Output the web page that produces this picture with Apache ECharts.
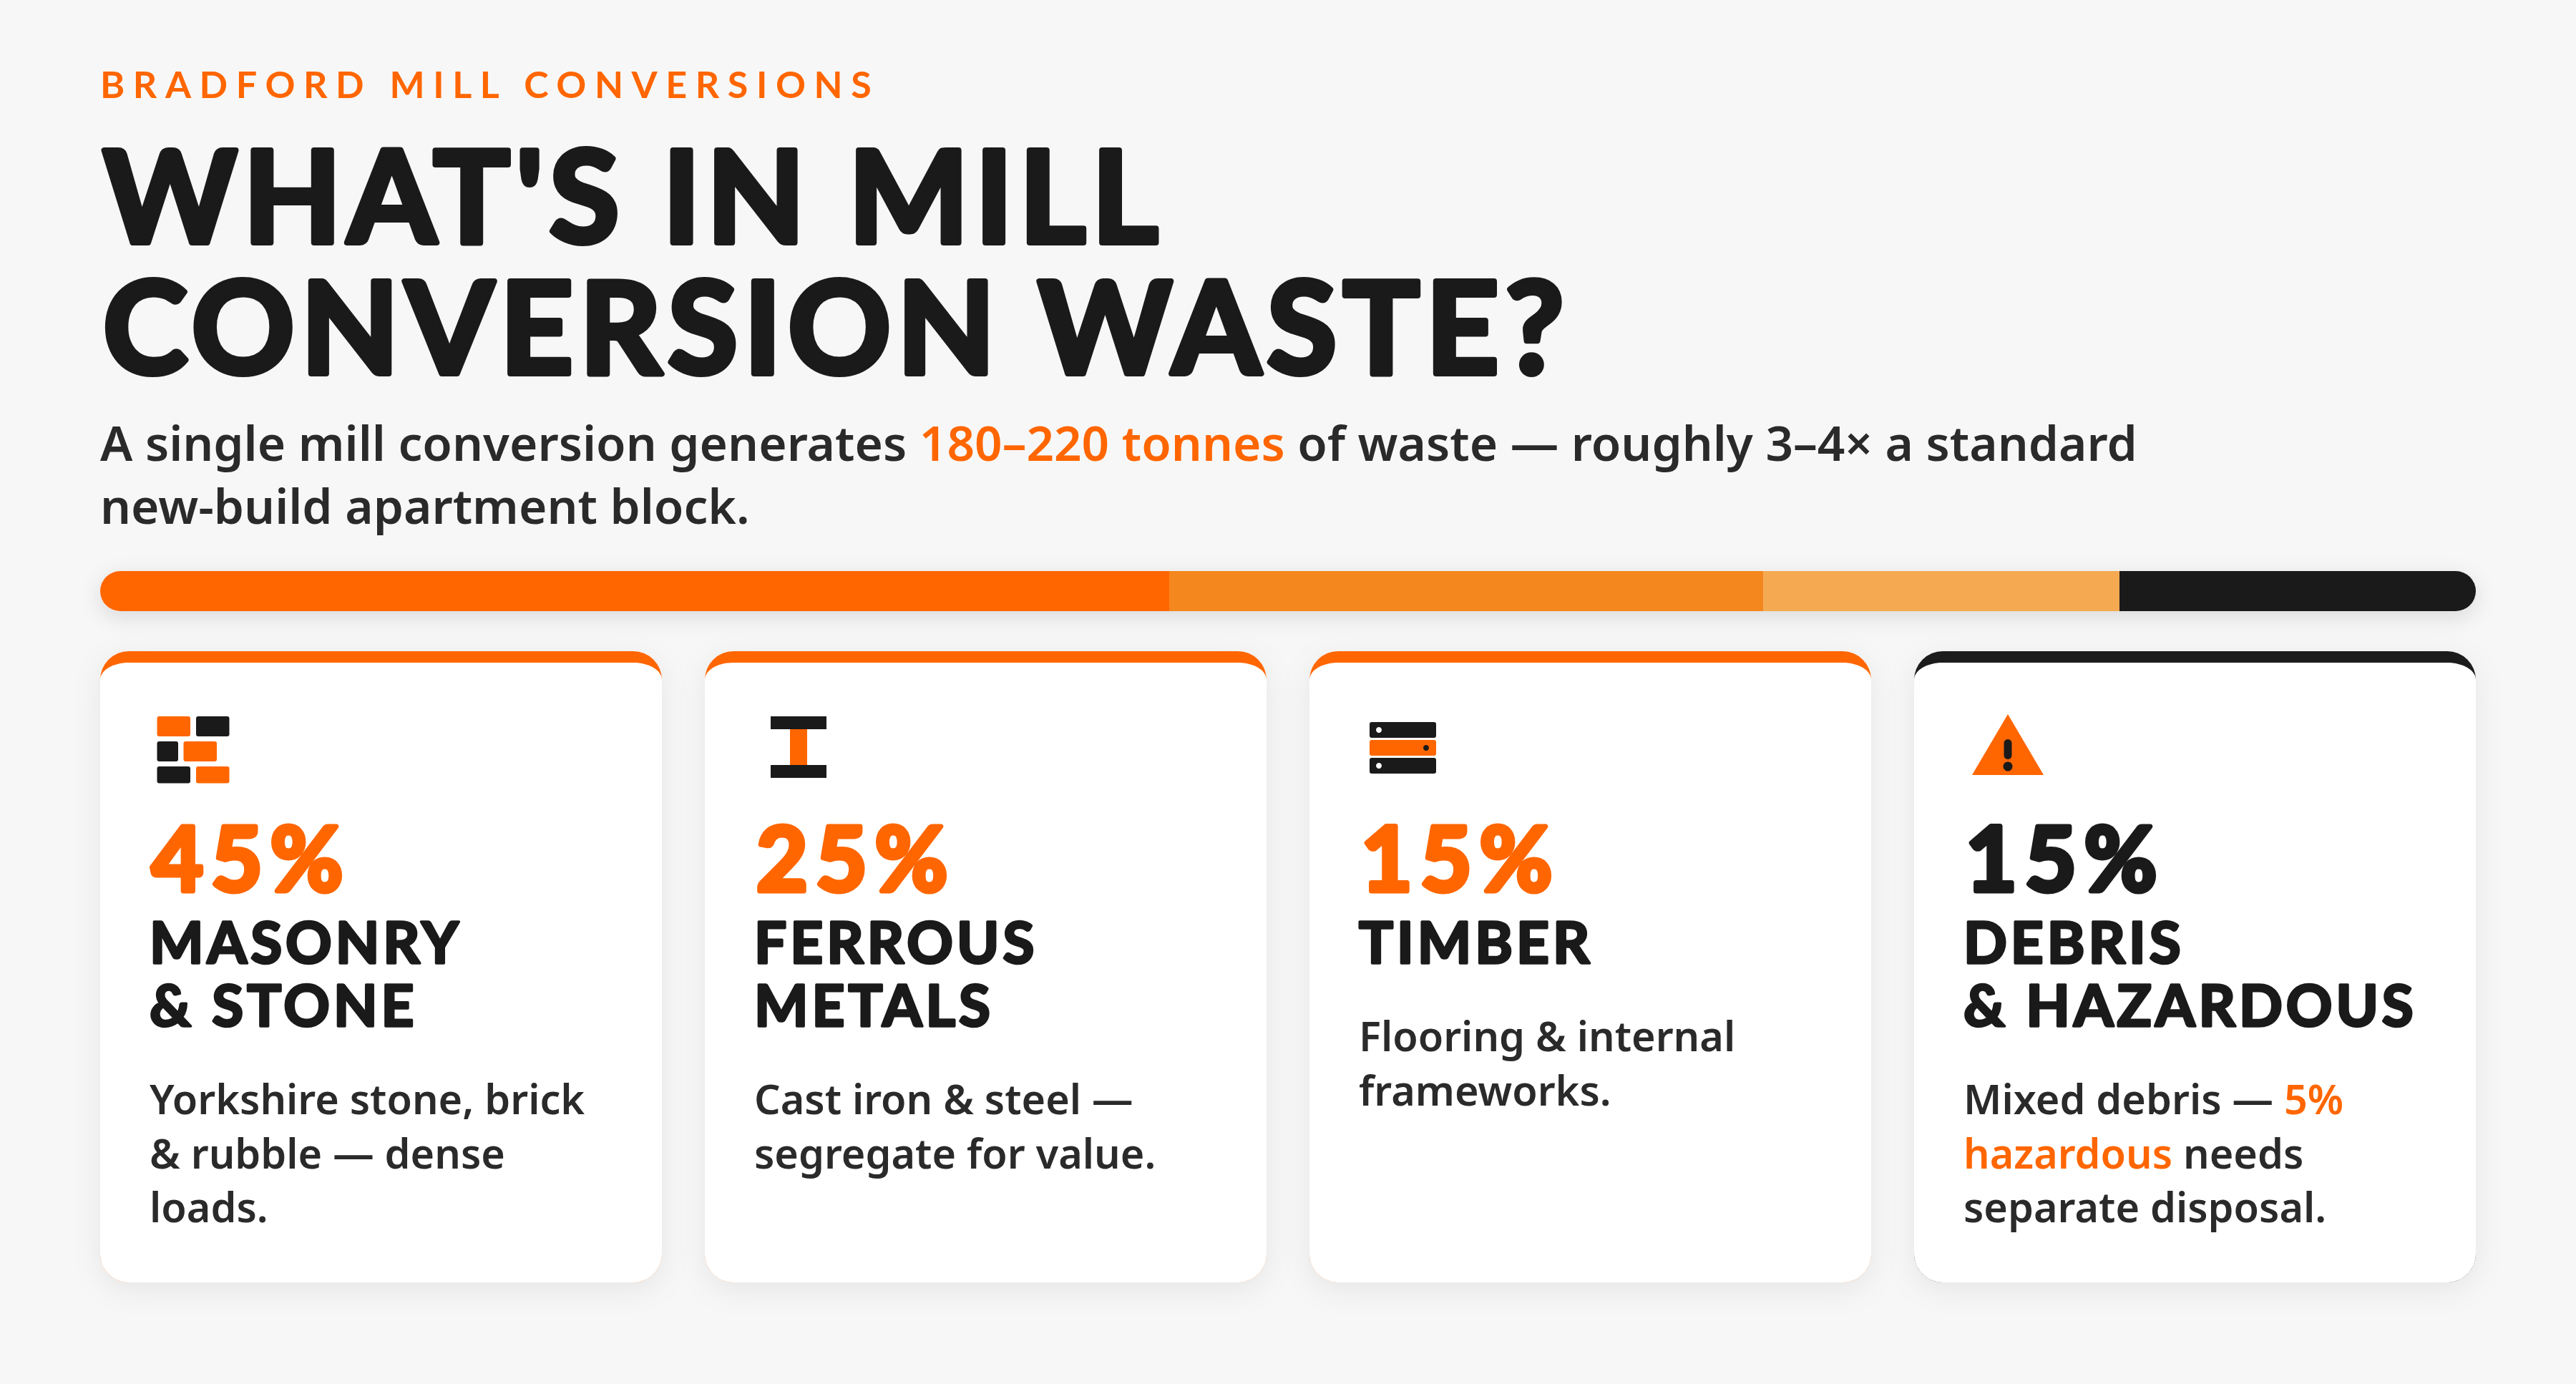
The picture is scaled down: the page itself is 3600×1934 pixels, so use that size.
<!DOCTYPE html>
<html>
<head>
<meta charset="utf-8">
<title>What's in mill conversion waste?</title>
<style>
  html, body { margin: 0; padding: 0; background: #f7f7f7; }
  #chart { width: 3600px; height: 1934px; }
  /* zrender has no letter spacing, the svg text nodes take it from css */
  #chart text { stroke-linejoin: round; stroke-linecap: round; }
  #chart text[style*="52px"] { letter-spacing: 11.6px; }
  #chart text[style*="178px"] { letter-spacing: 8.8px; }
  #chart text[style*="124px"] { letter-spacing: 11px; }
  #chart text[style*="80px"] { letter-spacing: 5px; }
</style>
<script src="https://cdn.jsdelivr.net/npm/echarts@6/dist/echarts.min.js"></script>
</head>
<body>
<div id="chart"></div>
<script>
// --- Data ---
var categories = ['Masonry & stone', 'Ferrous metals', 'Timber', 'Debris & hazardous'];
var shares = [45, 25, 15, 15];
var barColors = ['#ff6600', '#f5871f', '#f5aa52', '#1a1a1a'];
var accentColors = ['#ff6600', '#ff6600', '#ff6600', '#1a1a1a'];
var percentColors = ['#ff6600', '#ff6600', '#ff6600', '#1a1a1a'];
var cardTitles = [
  ['MASONRY', '& STONE'],
  ['FERROUS', 'METALS'],
  ['TIMBER'],
  ['DEBRIS', '& HAZARDOUS']
];
var cardBodies = [
  ['Yorkshire stone, brick', '& rubble — dense', 'loads.'],
  ['Cast iron & steel —', 'segregate for value.'],
  ['Flooring & internal', 'frameworks.'],
  ['Mixed debris — {o|5%}', '{o|hazardous} needs', 'separate disposal.']
];
var eyebrow = 'BRADFORD MILL CONVERSIONS';
var titleLines = ["WHAT'S IN MILL", 'CONVERSION WASTE?'];
var subtitleLines = [
  'A single mill conversion generates {o|180–220 tonnes} of waste — roughly 3–4× a standard',
  'new-build apartment block.'
];

// --- Layout ---
var ORANGE = '#ff6600';
var INK = '#1a1a1a';
var BODY = '#2a2a2a';
var HEAD_FONT = "Lato, sans-serif";
var BODY_FONT = "'Noto Sans', sans-serif";
var LEFT = 140;
var WIDTH = 3320;
var BAR_TOP = 798;
var BAR_H = 56;
var CARD_W = 785;
var CARD_GAP = 60;
var CARD_TOP = 910;
var CARD_BOTTOM = 1792;

// white face of a card, top corners are flattened by the thick top border
echarts.graphic.registerShape('cardFace', echarts.graphic.extendShape({
  shape: { x: 0, y: 0, width: 0, height: 0 },
  buildPath: function (ctx, s) {
    var k = 0.5523, rx = 40, ry = 24, rb = 40;
    var l = s.x, t = s.y, r = s.x + s.width, b = s.y + s.height;
    ctx.moveTo(l + rx, t);
    ctx.lineTo(r - rx, t);
    ctx.bezierCurveTo(r - rx + rx * k, t, r, t + ry - ry * k, r, t + ry);
    ctx.lineTo(r, b - rb);
    ctx.bezierCurveTo(r, b - rb + rb * k, r - rb + rb * k, b, r - rb, b);
    ctx.lineTo(l + rb, b);
    ctx.bezierCurveTo(l + rb - rb * k, b, l, b - rb + rb * k, l, b - rb);
    ctx.lineTo(l, t + ry);
    ctx.bezierCurveTo(l, t + ry - ry * k, l + rx - rx * k, t, l + rx, t);
    ctx.closePath();
  }
}));

function text(x, y, str, size, weight, fill, family) {
  return {
    type: 'text',
    style: {
      x: x,
      y: y,
      text: str,
      fontSize: size,
      fontWeight: weight,
      fontFamily: family || HEAD_FONT,
      fill: fill,
      verticalAlign: 'middle'
    }
  };
}

// Lato tops out at bold here, a same colour outline gives the heavy rounded look
function heavyText(x, y, str, size, fill, outline) {
  var t = text(x, y, str, size, 700, fill);
  t.style.stroke = fill;
  t.style.lineWidth = outline;
  return t;
}

function richText(x, y, str, size, weight, fill, accentWeight) {
  var t = text(x, y, str, size, weight, fill, BODY_FONT);
  t.style.rich = {
    o: { fontSize: size, fontWeight: accentWeight, fontFamily: BODY_FONT, fill: ORANGE }
  };
  return t;
}

function box(x, y, w, h, r, fill) {
  return { type: 'rect', shape: { x: x, y: y, width: w, height: h, r: r }, style: { fill: fill } };
}

function dot(x, y, r, fill) {
  return { type: 'circle', shape: { cx: x, cy: y, r: r }, style: { fill: fill } };
}

function brickIcon() {
  return [
    box(219.5, 1001, 46.5, 28, 3, ORANGE),
    box(274, 1001, 46.5, 28, 3, INK),
    box(219.5, 1036, 29.5, 28, 3, INK),
    box(256.5, 1036, 46.5, 28, 3, ORANGE),
    box(219.5, 1071, 46.5, 23.5, 3, INK),
    box(274, 1071, 46.5, 23.5, 3, ORANGE)
  ];
}

function beamIcon() {
  return [
    box(1104, 1018, 24, 52, 0, ORANGE),
    box(1077, 1001, 78, 18, 0, INK),
    box(1077, 1069, 78, 18, 0, INK)
  ];
}

function timberIcon() {
  return [
    box(1914, 1009, 93, 22, 3, INK),
    dot(1927, 1020, 4, '#ffffff'),
    box(1914, 1034, 93, 22, 3, ORANGE),
    dot(1993, 1045, 4, INK),
    box(1914, 1059, 93, 22, 3, INK),
    dot(1927, 1070, 4, '#ffffff')
  ];
}

function hazardIcon() {
  return [
    { type: 'polygon', shape: { points: [[2806, 998], [2856, 1083], [2756, 1083]] }, style: { fill: ORANGE } },
    box(2800.5, 1033, 11, 28, 5.5, INK),
    dot(2806, 1071, 6.5, INK)
  ];
}

// --- Graphic elements ---
function buildGraphic() {
  var els = [];

  els.push(text(LEFT, 117, eyebrow, 52, 700, ORANGE));
  titleLines.forEach(function (line, i) {
    els.push(heavyText(LEFT + 4, 270 + i * 183, line, 178, INK, 8));
  });
  subtitleLines.forEach(function (line, i) {
    els.push(richText(LEFT, 618 + i * 88, line, 67.5, 600, BODY, 600));
  });

  // shadow under the stacked bar, the bar segments themselves stay flat
  var barShadow = box(LEFT, BAR_TOP, WIDTH, BAR_H, BAR_H / 2, '#f7f7f7');
  barShadow.style.shadowBlur = 30;
  barShadow.style.shadowOffsetY = 8;
  barShadow.style.shadowColor = 'rgba(0,0,0,0.12)';
  els.push(barShadow);

  categories.forEach(function (name, i) {
    var x = LEFT + i * (CARD_W + CARD_GAP);
    var pad = x + 70;
    var back = box(x, CARD_TOP, CARD_W, CARD_BOTTOM - CARD_TOP, 40, accentColors[i]);
    back.style.shadowBlur = 40;
    back.style.shadowOffsetY = 10;
    back.style.shadowColor = 'rgba(0,0,0,0.07)';
    els.push(back);
    els.push({
      type: 'cardFace',
      shape: { x: x, y: CARD_TOP + 16, width: CARD_W, height: CARD_BOTTOM - CARD_TOP - 16 },
      style: { fill: '#ffffff' }
    });

    els.push(heavyText(pad + 2, 1197, shares[i] + '%', 124, percentColors[i], 7));
    cardTitles[i].forEach(function (line, j) {
      els.push(heavyText(pad - 1, 1315 + j * 88, line, 80, INK, 3.5));
    });
    var bodyTop = 1535 - (2 - cardTitles[i].length) * 88;
    cardBodies[i].forEach(function (line, j) {
      els.push(richText(pad - 1, bodyTop + j * 75.5, line, 57.5, 600, BODY, 600));
    });
  });

  return els.concat(brickIcon(), beamIcon(), timberIcon(), hazardIcon());
}

// --- Stacked bar ---
var series = categories.map(function (name, i) {
  var radius = [0, 0, 0, 0];
  if (i === 0) radius = [BAR_H / 2, 0, 0, BAR_H / 2];
  if (i === categories.length - 1) radius = [0, BAR_H / 2, BAR_H / 2, 0];
  return {
    type: 'bar',
    name: name,
    stack: 'waste',
    barWidth: '100%',
    silent: true,
    animation: false,
    data: [shares[i]],
    itemStyle: { color: barColors[i], borderRadius: radius }
  };
});

var chart = echarts.init(document.getElementById('chart'), null, { renderer: 'svg' });
chart.setOption({
  animation: false,
  backgroundColor: '#f7f7f7',
  grid: { left: LEFT, top: BAR_TOP, width: WIDTH, height: BAR_H },
  xAxis: { type: 'value', min: 0, max: 100, show: false },
  yAxis: { type: 'category', data: ['Share of waste'], show: false },
  series: series,
  graphic: { elements: buildGraphic() }
});

window.addEventListener('resize', function () {
  chart.resize();
});
</script>
</body>
</html>
